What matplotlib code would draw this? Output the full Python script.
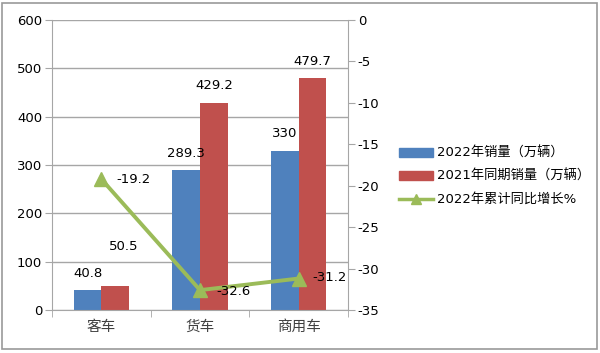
import matplotlib.pyplot as plt
import numpy as np
from matplotlib.lines import Line2D
from matplotlib.patches import Patch, Rectangle

plt.rcParams['font.family'] = ['DejaVu Sans', 'Noto Sans CJK SC']
plt.rcParams['axes.unicode_minus'] = False

categories = ['客车', '货车', '商用车']
sales_2022 = [40.8, 289.3, 330]
sales_2021 = [50.5, 429.2, 479.7]
growth_2022 = [-19.2, -32.6, -31.2]
series_names = ['2022年销量（万辆）', '2021年同期销量（万辆）', '2022年累计同比增长%']

blue = '#4F81BD'
red = '#C0504D'
green = '#9BBB59'
gray = '#A6A6A6'

fig = plt.figure(figsize=(6, 3.53), dpi=100)
# outer frame
fig.patches.append(Rectangle((0.004, 0.01), 0.991, 0.982, transform=fig.transFigure,
                             fill=False, edgecolor='#999999', linewidth=1.2))

ax = fig.add_axes([0.0867, 0.1218, 0.4933, 0.8215])
x = np.arange(len(categories))
w = 0.28
ax.bar(x - w / 2, sales_2022, w, color=blue, zorder=2)
ax.bar(x + w / 2, sales_2021, w, color=red, zorder=2)

ax.set_xlim(-0.5, 2.5)
ax.set_ylim(0, 600)
ax.set_yticks(range(0, 601, 100))
ax.grid(axis='y', color=gray, linewidth=1, zorder=0)
ax.set_xticks(x)
ax.set_xticklabels(categories, fontsize=10.5, family=['Noto Sans CJK SC'], color='#404040')
ax.set_xticks([-0.5, 0.5, 1.5, 2.5], minor=True)
ax.tick_params(axis='x', which='major', length=0, pad=7)
ax.tick_params(axis='x', which='minor', length=5, color=gray)
ax.tick_params(axis='y', length=5, color=gray, labelsize=9.5, pad=2)
for s in ['top', 'right']:
    ax.spines[s].set_visible(False)
for s in ['left', 'bottom']:
    ax.spines[s].set_color(gray)

# bar labels (offsets in points)
offs_blue = [(0, 12), (0, 12), (0, 12)]
offs_red = [(6, 28), (0, 12), (0, 12)]
for i in range(len(categories)):
    ax.annotate(f'{sales_2022[i]:g}', (x[i] - w / 2, sales_2022[i]), xytext=offs_blue[i],
                textcoords='offset points', ha='center', va='center', fontsize=9.5)
    ax.annotate(f'{sales_2021[i]:g}', (x[i] + w / 2, sales_2021[i]), xytext=offs_red[i],
                textcoords='offset points', ha='center', va='center', fontsize=9.5)

ax2 = ax.twinx()
ax2.set_ylim(-35, 0)
ax2.set_yticks(range(-35, 1, 5))
ax2.plot(x, growth_2022, color=green, linewidth=2.8, marker='^', markersize=10, zorder=3)
ax2.tick_params(axis='y', length=5, color=gray, labelsize=9.5, pad=2)
for s in ['top', 'left', 'bottom']:
    ax2.spines[s].set_visible(False)
ax2.spines['right'].set_color(gray)

offs_line = [(23, 0), (24, -1), (22, 1)]
for i in range(len(categories)):
    ax2.annotate(f'{growth_2022[i]:g}', (x[i], growth_2022[i]), xytext=offs_line[i],
                 textcoords='offset points', ha='center', va='center', fontsize=9.5)

handles = [Patch(color=blue), Patch(color=red),
           Line2D([0], [0], color=green, linewidth=2.5, marker='^', markersize=7)]
fig.legend(handles, series_names, loc='center left', bbox_to_anchor=(0.645, 0.5),
           frameon=False, handlelength=2.6, handleheight=0.6, handletextpad=0.3,
           labelspacing=0.75, prop={'family': ['DejaVu Sans', 'Noto Sans CJK SC'], 'size': 9.5})

fig.savefig('out.png', dpi=100)
